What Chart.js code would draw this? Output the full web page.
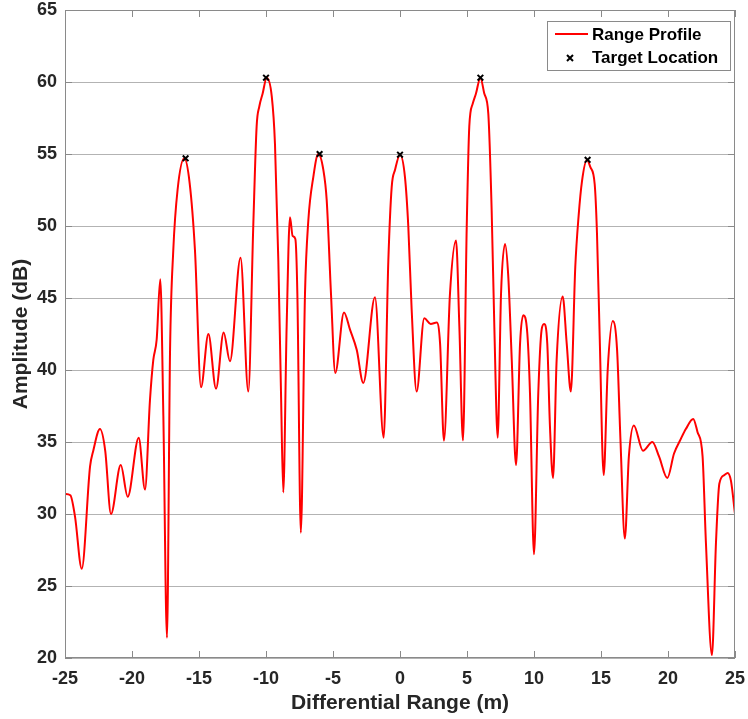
<!DOCTYPE html>
<html>
<head>
<meta charset="utf-8">
<script src="https://cdn.jsdelivr.net/npm/chart.js@4"></script>
<style>
    body { margin: 0; background: #fff; }
    canvas { display: block; }
</style>
</head>
<body>
<canvas id="chart1" width="748" height="719"></canvas>
<script>
// 레인지 프로파일 데이터
const rangeX = [
    -25, -24.6, -24.25, -23.75, -23.13, -22.89, -22.39, -22.0, -21.57, -20.84,
    -20.32, -19.5, -19.03, -18.66, -18.41, -18.16, -17.89, -17.66, -17.39, -17.16,
    -16.92, -16.6, -16.1, -15.7, -15.3, -14.85, -14.3, -13.73, -13.16, -12.69,
    -11.9, -11.32, -10.95, -10.7, -10.5, -10.25, -9.95, -9.57, -9.33, -9.08,
    -8.88, -8.71, -8.46, -8.21, -8.01, -7.81, -7.66, -7.4, -7.09, -6.84,
    -6.47, -6.1, -5.72, -5.47, -5.15, -4.83, -4.18, -3.73, -3.23, -2.74,
    -1.87, -1.22, -0.87, -0.62, -0.37, 0, 0.37, 0.62, 0.87, 1.24,
    1.81, 2.29, 2.74, 2.99, 3.28, 3.73, 4.18, 4.43, 4.7, 4.98,
    5.17, 5.43, 5.67, 6.0, 6.29, 6.59, 6.84, 7.04, 7.29, 7.54,
    7.84, 8.08, 8.34, 8.66, 8.96, 9.2, 9.5, 9.7, 10.0, 10.32,
    10.57, 10.75, 10.99, 11.19, 11.42, 11.69, 12.14, 12.44, 12.75, 13.08,
    13.33, 13.58, 13.95, 14.2, 14.53, 14.7, 14.9, 15.2, 15.5, 15.88,
    16.2, 16.45, 16.78, 17.08, 17.45, 18.13, 18.83, 19.33, 19.95, 20.45,
    20.95, 21.33, 21.88, 22.2, 22.58, 22.83, 23.28, 23.58, 23.83, 24.2,
    24.45, 24.7, 25
];
const amplitudeDb = [
    31.4, 31.3, 29.8, 26.2, 33.3, 34.4, 35.9, 34.4, 30.0, 33.4,
    31.2, 35.3, 31.7, 37.9, 40.7, 42.1, 46.3, 36.8, 21.4, 41.4,
    48.3, 52.5, 54.7, 53.0, 48.3, 38.8, 42.5, 38.7, 42.6, 40.6,
    47.8, 38.5, 50.0, 56.9, 58.3, 59.2, 60.3, 59.0, 55.7, 47.6,
    38.4, 31.5, 43.0, 50.6, 49.3, 49.1, 45.3, 28.7, 45.3, 50.4,
    53.4, 55.0, 53.9, 51.8, 45.3, 39.8, 44.0, 42.8, 41.4, 39.1,
    45.05, 35.3, 47.6, 52.7, 53.9, 54.95, 53.4, 49.95, 44.2, 38.5,
    43.6, 43.2, 43.3, 41.85, 35.1, 45.3, 49.0, 43.0, 35.1, 49.95,
    56.9, 58.5, 59.2, 60.3, 59.2, 57.8, 51.1, 43.0, 35.3, 45.3,
    48.75, 46.5, 40.7, 33.4, 41.85, 43.8, 42.55, 38.4, 27.2, 38.4,
    42.8, 43.2, 41.85, 36.1, 32.5, 40.7, 45.1, 41.85, 38.5, 47.15,
    50.7, 53.1, 54.6, 54.1, 52.9, 49.5, 42.4, 32.7, 40.0, 43.4,
    41.4, 35.2, 28.3, 34.0, 36.15, 34.4, 35.0, 34.0, 32.5, 34.2,
    35.2, 35.9, 36.6, 35.7, 34.0, 28.0, 20.2, 28.0, 32.1, 32.7,
    32.85, 32.3, 30.0
];

// 타겟 위치
const targetX = [-16, -10, -6, 0, 6, 14];
const targetDb = [54.7, 60.3, 55.0, 54.95, 60.3, 54.6];

const xTicks = [-25, -20, -15, -10, -5, 0, 5, 10, 15, 20, 25];
const yTicks = [20, 25, 30, 35, 40, 45, 50, 55, 60, 65];

const textColor = "#262626";
const axisColor = "#8a8a8a";
const gridColor = "#b3b3b3";
const fontFamily = "'Liberation Sans', Arial, sans-serif";

// 테두리, 안쪽 눈금, 범례를 그립니다.
const framePlugin = {
    id: "frame",
    afterDraw(chart) {
        const { ctx, chartArea: a, scales } = chart;
        ctx.save();
        ctx.strokeStyle = axisColor;
        ctx.lineWidth = 1;
        ctx.strokeRect(a.left + 0.5, a.top + 0.5, a.right - a.left - 1, a.bottom - a.top - 1);

        ctx.beginPath();
        xTicks.forEach((v) => {
            const px = Math.round(scales.x.getPixelForValue(v)) + 0.5;
            ctx.moveTo(px, a.bottom);
            ctx.lineTo(px, a.bottom - 7);
            ctx.moveTo(px, a.top);
            ctx.lineTo(px, a.top + 7);
        });
        yTicks.forEach((v) => {
            const py = Math.round(scales.y.getPixelForValue(v)) + 0.5;
            ctx.moveTo(a.left, py);
            ctx.lineTo(a.left + 7, py);
            ctx.moveTo(a.right, py);
            ctx.lineTo(a.right - 7, py);
        });
        ctx.stroke();

        // 범례
        const lx = 547.5, ly = 21.5, lw = 183, lh = 49;
        ctx.fillStyle = "#fff";
        ctx.fillRect(lx, ly, lw, lh);
        ctx.strokeStyle = axisColor;
        ctx.strokeRect(lx, ly, lw, lh);

        const ds = chart.data.datasets;
        ctx.strokeStyle = ds[1].borderColor;
        ctx.lineWidth = 2;
        ctx.beginPath();
        ctx.moveTo(555, 34);
        ctx.lineTo(588, 34);
        ctx.stroke();

        ctx.strokeStyle = "#000";
        ctx.lineWidth = 2;
        ctx.beginPath();
        ctx.moveTo(567, 55);
        ctx.lineTo(573, 61);
        ctx.moveTo(573, 55);
        ctx.lineTo(567, 61);
        ctx.stroke();

        ctx.fillStyle = "#000";
        ctx.font = "bold 17px " + fontFamily;
        ctx.textBaseline = "middle";
        ctx.textAlign = "left";
        ctx.fillText(ds[1].label, 592, 35);
        ctx.fillText(ds[0].label, 592, 58);
        ctx.restore();
    },
};

const ctx1 = document.getElementById("chart1").getContext("2d");
const chart1 = new Chart(ctx1, {
    type: "line",
    data: {
        datasets: [
            {
                label: "Target Location",
                data: targetX.map((x, i) => ({ x: x, y: targetDb[i] })),
                showLine: false,
                pointStyle: "crossRot",
                pointRadius: 4,
                pointBorderWidth: 2,
                borderColor: "#000",
                backgroundColor: "#000",
                order: 0,
            },
            {
                label: "Range Profile",
                data: rangeX.map((x, i) => ({ x: x, y: amplitudeDb[i] })),
                borderColor: "#ff0000",
                borderWidth: 2,
                pointRadius: 0,
                cubicInterpolationMode: "monotone",
                fill: false,
                order: 1,
            },
        ],
    },
    options: {
        responsive: false,
        animation: false,
        devicePixelRatio: 1,
        layout: {
            padding: { left: 0, right: 13, top: 10, bottom: 0 },
        },
        plugins: {
            legend: { display: false },
            tooltip: { enabled: false },
        },
        scales: {
            x: {
                type: "linear",
                min: -25,
                max: 25,
                afterFit: (s) => {
                    s.height = 61;
                    s.paddingLeft = 0;
                    s.paddingRight = 0;
                },
                afterBuildTicks: (s) => { s.ticks = xTicks.map((v) => ({ value: v })); },
                ticks: {
                    color: textColor,
                    font: { family: fontFamily, size: 18, weight: "bold" },
                    padding: 10,
                    maxRotation: 0,
                },
                grid: { display: false, drawTicks: false },
                border: { display: false },
                title: {
                    display: true,
                    text: "Differential Range (m)",
                    color: textColor,
                    font: { family: fontFamily, size: 21, weight: "bold" },
                    padding: { top: 0, bottom: 3 },
                },
            },
            y: {
                min: 20,
                max: 65,
                afterFit: (s) => {
                    s.width = 65;
                    s.paddingTop = 0;
                    s.paddingBottom = 0;
                },
                afterBuildTicks: (s) => { s.ticks = yTicks.map((v) => ({ value: v })); },
                ticks: {
                    color: textColor,
                    font: { family: fontFamily, size: 18, weight: "bold" },
                    padding: 8,
                },
                grid: { color: gridColor, drawTicks: false },
                border: { display: false },
                title: {
                    display: true,
                    text: "Amplitude (dB)",
                    color: textColor,
                    font: { family: fontFamily, size: 21, weight: "bold" },
                    padding: { top: 9, bottom: 0 },
                },
            },
        },
    },
    plugins: [framePlugin],
});
</script>
</body>
</html>
